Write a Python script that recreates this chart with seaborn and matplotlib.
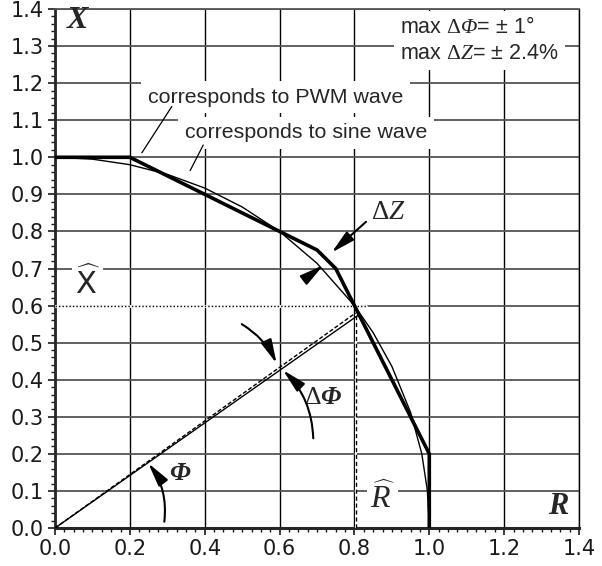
import matplotlib
matplotlib.use('Agg')
import matplotlib.pyplot as plt
from matplotlib.ticker import MultipleLocator
import pandas as pd
import seaborn as sns

# locus for the PWM wave (thick polyline)
pwm_r = [0.0, 0.2, 0.6, 0.7, 0.75, 0.8, 1.0, 1.0]
pwm_x = [1.0, 1.0, 0.8, 0.75, 0.7, 0.6, 0.2, 0.0]

# locus for the sine wave (thin curve)
sine_r = [0.0, 0.1, 0.2, 0.3, 0.4, 0.5, 0.6, 0.7, 0.8, 0.85, 0.9, 0.95, 0.98, 0.995, 1.0]
sine_x = [1.0, 0.995, 0.98, 0.954, 0.917, 0.866, 0.8, 0.714, 0.6, 0.527, 0.436, 0.312, 0.2, 0.1, 0.0]

# angle lines from the origin
phi_solid_r = [0.0, 0.81]
phi_solid_x = [0.0, 0.574]
phi_dash_r = [0.0, 0.803]
phi_dash_x = [0.0, 0.58]

# projections
r_hat = 0.805
x_hat = 0.6
x_hat_end = 0.83

x_ticks = [0.0, 0.2, 0.4, 0.6, 0.8, 1.0, 1.2, 1.4]
y_ticks = [0.0, 0.1, 0.2, 0.3, 0.4, 0.5, 0.6, 0.7, 0.8, 0.9, 1.0, 1.1, 1.2, 1.3, 1.4]

sns.set_theme(style='ticks')
plt.rcParams['font.family'] = ['DejaVu Sans']
plt.rcParams['mathtext.fontset'] = 'custom'
plt.rcParams['mathtext.rm'] = 'Liberation Serif'
plt.rcParams['mathtext.it'] = 'Liberation Serif:italic'
plt.rcParams['mathtext.bf'] = 'Liberation Serif:italic:bold'
plt.rcParams['mathtext.cal'] = 'Liberation Serif:italic'
plt.rcParams['mathtext.sf'] = 'DejaVu Sans'

pwm = pd.DataFrame({'R': pwm_r, 'X': pwm_x})
sine = pd.DataFrame({'R': sine_r, 'X': sine_x})

fig = plt.figure(figsize=(6.02, 5.66), dpi=100)
ax = fig.add_axes([0.0914, 0.0671, 0.8704, 0.917])

ax.set_xlim(0, 1.4)
ax.set_ylim(0, 1.4)
ax.set_xticks(x_ticks)
ax.set_xticklabels([f'{v:.1f}' for v in x_ticks])
ax.set_yticks(y_ticks)
ax.set_yticklabels([f'{v:.1f}' for v in y_ticks])
ax.xaxis.set_minor_locator(MultipleLocator(0.025))
ax.yaxis.set_minor_locator(MultipleLocator(0.02))
ax.tick_params(which='major', direction='out', length=5, width=1.2, labelsize=15, pad=3, colors='k')
ax.tick_params(which='minor', direction='out', length=3, width=1, colors='k')

ax.set_axisbelow(True)
ax.yaxis.grid(True, color='#555555', lw=1.3)
ax.xaxis.grid(True, color='black', lw=1)
ax.spines['left'].set_linewidth(2)
ax.spines['bottom'].set_linewidth(2.2)
ax.spines['top'].set_color('#555555')
ax.spines['top'].set_linewidth(1.3)
ax.spines['right'].set_color('black')
ax.spines['right'].set_linewidth(1)
for s in ax.spines.values():
    s.set_zorder(1.5)

# dotted X-hat line hides the grid below it
ax.plot([0, x_hat_end], [x_hat, x_hat], color='white', lw=2, zorder=1.6)
ax.plot([0, x_hat_end], [x_hat, x_hat], color='black', lw=1, ls=(0, (1, 1.5)), zorder=1.7)
ax.plot([r_hat, r_hat], [0, phi_solid_x[1]], color='white', lw=1.5, zorder=1.6)
ax.plot([r_hat, r_hat], [0, phi_solid_x[1]], color='black', lw=1, ls=(0, (3, 2)), zorder=1.7)

ax.plot(phi_solid_r, phi_solid_x, color='black', lw=1, zorder=2)
ax.plot(phi_dash_r, phi_dash_x, color='black', lw=1, ls=(0, (3, 1.5)), zorder=2)

sns.lineplot(data=sine, x='R', y='X', sort=False, estimator=None, color='black', lw=1, ax=ax, zorder=3)
sns.lineplot(data=pwm, x='R', y='X', sort=False, estimator=None, color='black', lw=2.6, ax=ax, zorder=3)
ax.set_xlabel('')
ax.set_ylabel('')

box = dict(facecolor='white', edgecolor='none', boxstyle='square,pad=0.3')
sans = 'Liberation Sans'

ax.text(0.248, 1.162, 'corresponds to PWM wave', fontsize=15.4, family=sans, ha='left', va='center', bbox=box, zorder=4)
ax.text(0.347, 1.066, 'corresponds to sine wave', fontsize=15.4, family=sans, ha='left', va='center', bbox=box, zorder=4)
ax.plot([0.312, 0.232], [1.137, 1.012], color='black', lw=0.9, zorder=5)
ax.plot([0.396, 0.361], [1.033, 0.964], color='black', lw=0.9, zorder=5)

ax.text(0.922, 1.315, 'max $\\Delta\\mathcal{\\Phi}$= ± 1°\nmax $\\Delta Z$= ± 2.4%', fontsize=15.5, family=sans,
        ha='left', va='center', linespacing=1.3, bbox=dict(facecolor='white', edgecolor='none', boxstyle='square,pad=0.3'), zorder=4)

ax.text(0.059, 1.368, 'X', fontsize=23, family='Liberation Serif', style='italic', weight='bold', ha='center', va='center')
ax.text(1.345, 0.057, 'R', fontsize=22, family='Liberation Serif', style='italic', weight='bold', ha='center', va='center')
ax.text(0.086, 0.66, '$\\widehat{\\mathsf{X}}$', fontsize=22, ha='center', va='center', bbox=dict(facecolor='white', edgecolor='none', boxstyle='square,pad=0.1'), zorder=4)
ax.text(0.874, 0.08, '$\\widehat{R}$', fontsize=23, ha='center', va='center', bbox=dict(facecolor='white', edgecolor='none', boxstyle='square,pad=0.1'), zorder=4)
ax.text(0.334, 0.148, '$\\mathbf{\\Phi}$', fontsize=19, ha='center', va='center')
ax.text(0.716, 0.353, '$\\Delta\\mathbf{\\Phi}$', fontsize=18.5, ha='center', va='center')
ax.text(0.89, 0.852, '$\\Delta Z$', fontsize=19.5, ha='center', va='center', bbox=dict(facecolor='white', edgecolor='none', boxstyle='square,pad=0.15'), zorder=4)

arrow = dict(arrowstyle='-|>,head_length=0.85,head_width=0.2', color='black', lw=1.5, mutation_scale=17, shrinkA=0, shrinkB=0)
ax.annotate('', xy=(0.249, 0.175), xytext=(0.292, 0.017), arrowprops=dict(arrow, connectionstyle='arc3,rad=0.2'), zorder=5)
ax.annotate('', xy=(0.592, 0.444), xytext=(0.499, 0.55), arrowprops=dict(arrow, connectionstyle='arc3,rad=-0.15'), zorder=5)
ax.annotate('', xy=(0.609, 0.426), xytext=(0.69, 0.242), arrowprops=dict(arrow, connectionstyle='arc3,rad=0.2'), zorder=5)
ax.annotate('', xy=(0.739, 0.743), xytext=(0.831, 0.826), arrowprops=arrow, zorder=5)
ax.annotate('', xy=(0.717, 0.709), xytext=(0.671, 0.674), arrowprops=arrow, zorder=5)

fig.savefig('out.png', dpi=100)
